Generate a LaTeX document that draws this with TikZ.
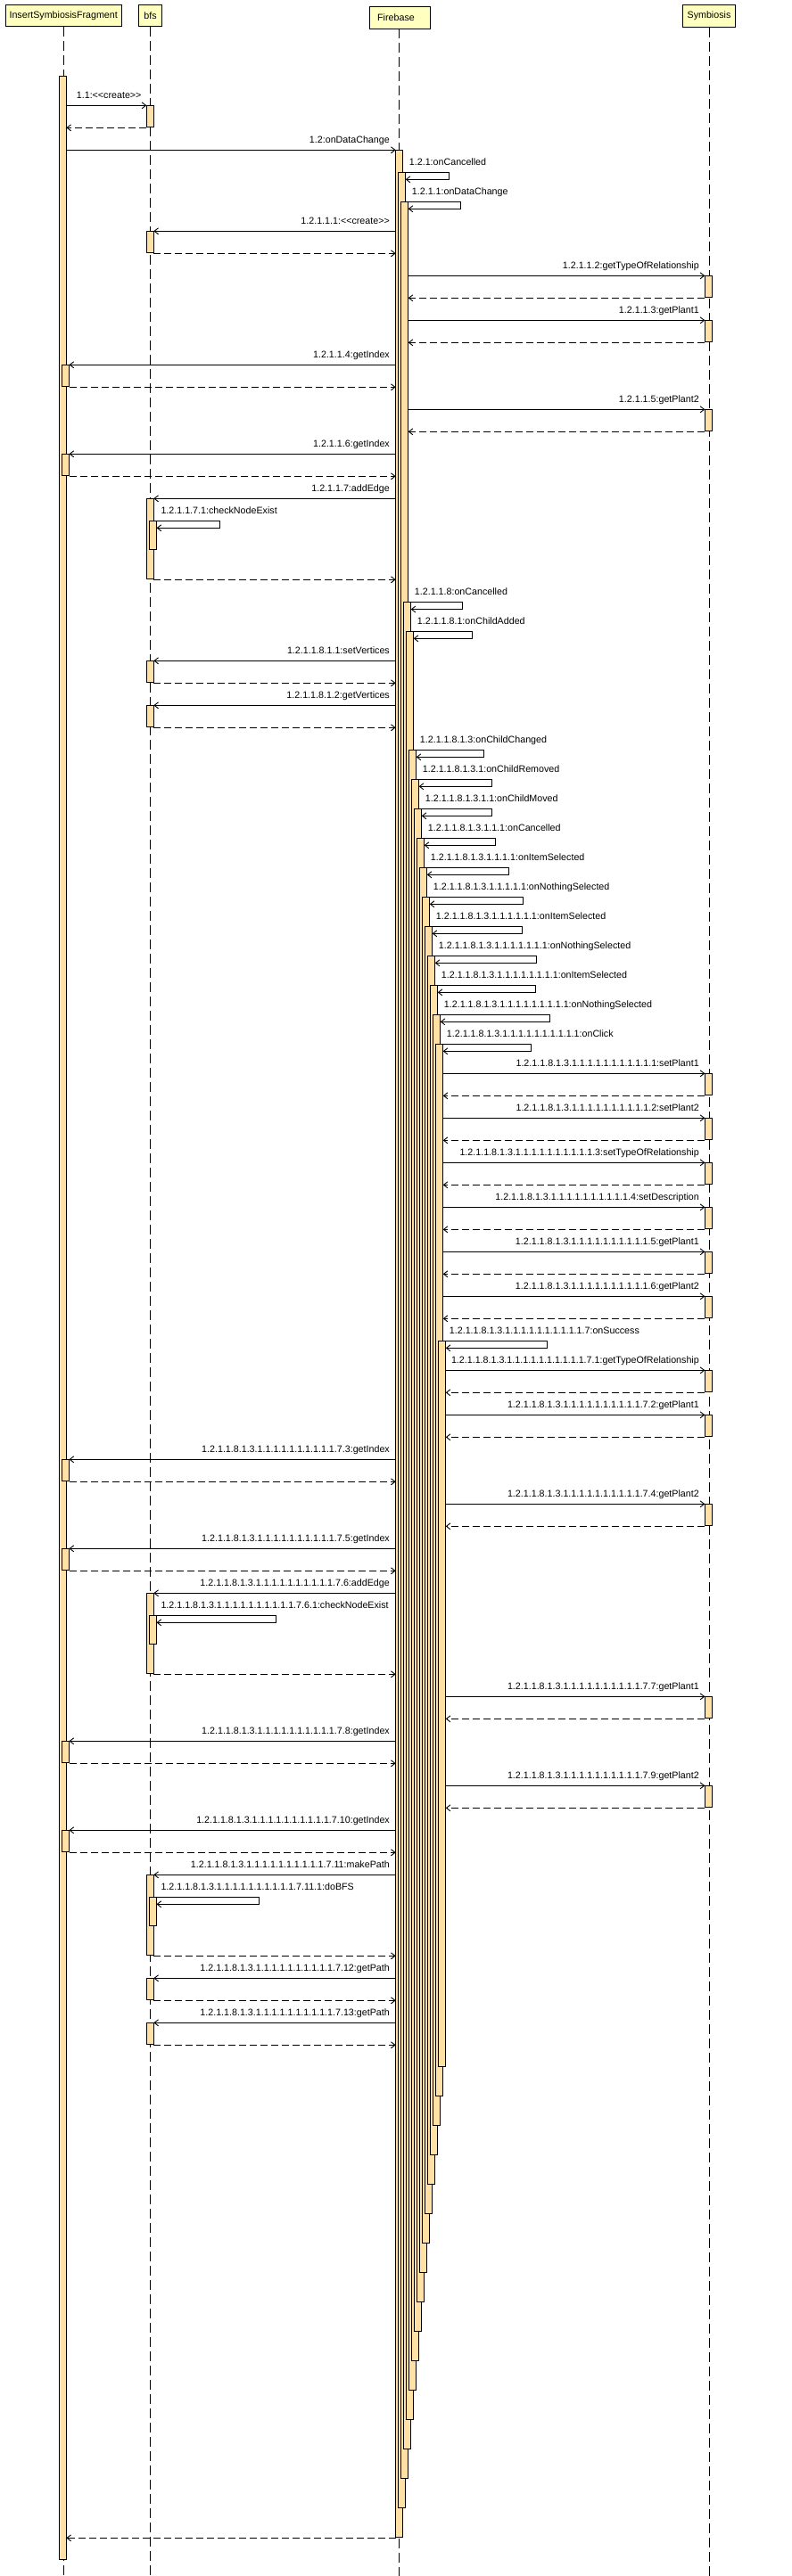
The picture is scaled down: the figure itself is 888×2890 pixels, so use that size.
\documentclass[tikz,border=0pt]{standalone}
\usepackage{fontspec}
\setmainfont{Liberation Sans}
\usetikzlibrary{arrows.meta}
\definecolor{headfill}{RGB}{255,255,192}
\definecolor{actfill}{RGB}{255,224,165}
\def\B{1.2.1.1.8.1.3}
\def\Xn{\B.1.1.1.1.1.1.1.1.1.1}
\def\cre{<{}<create>{}>}
% right call to Symbiosis: id, y, k (firebase activation index), label
\newcommand{\rcall}[4]{%
  \draw[actbox] (790.3,#2) rectangle (798.3,{#2+24});
  \coordinate (#1s) at ({451.7+3*#3},#2);
  \coordinate (#1t) at (790.3,#2);
  \draw[callarrow] (#1s) -- (#1t);
  \coordinate (#1rs) at (790.3,{#2+25});
  \coordinate (#1rt) at ({451.7+3*#3},{#2+25});
  \draw[retarrow] (#1rs) -- (#1rt);
  \node[lbl] (#1l) at (784,{#2-8}) {#4};
}
% left call from Firebase: id, y, target activation left x, label
\newcommand{\lcall}[4]{%
  \draw[actbox] (#3,#2) rectangle ({#3+8},{#2+24});
  \coordinate (#1s) at (443.7,#2);
  \coordinate (#1t) at ({#3+8},#2);
  \draw[callarrow] (#1s) -- (#1t);
  \coordinate (#1rs) at ({#3+8},{#2+25});
  \coordinate (#1rt) at (443.7,{#2+25});
  \draw[retarrow] (#1rs) -- (#1rt);
  \node[lbl] (#1l) at (437,{#2-8}) {#4};
}
% self call on Firebase: id, k, y, loop right, label
\newcommand{\fself}[5]{%
  \coordinate (#1a) at ({451.7+3*(#2-1)},#3);
  \coordinate (#1b) at (#4,#3);
  \coordinate (#1c) at (#4,{#3+8});
  \coordinate (#1d) at ({451.7+3*#2},{#3+8});
  \draw[selfarrow] (#1a) -- (#1b) -- (#1c) -- (#1d);
  \node[lblw] (#1l) at ({458.7+3*(#2-1)},{#3-8}) {#5};
}
% call to bfs with nested self call: id, y, label, sublabel, loop right
\newcommand{\bcalln}[5]{%
  \draw[actbox] (164.3,#2) rectangle (172.3,{#2+90});
  \draw[actbox] (167.5,{#2+25}) rectangle (175.5,{#2+57});
  \coordinate (#1s) at (443.7,#2);
  \coordinate (#1t) at (172.3,#2);
  \draw[callarrow] (#1s) -- (#1t);
  \node[lbl] (#1l) at (437,{#2-8}) {#3};
  \coordinate (#1a) at (172.3,{#2+25});
  \coordinate (#1b) at (#5,{#2+25});
  \coordinate (#1c) at (#5,{#2+33});
  \coordinate (#1d) at (175.5,{#2+33});
  \draw[selfarrow] (#1a) -- (#1b) -- (#1c) -- (#1d);
  \node[lblw] (#1m) at (180.3,{#2+17}) {#4};
  \coordinate (#1rs) at (172.3,{#2+91});
  \coordinate (#1rt) at (443.7,{#2+91});
  \draw[retarrow] (#1rs) -- (#1rt);
}
\begin{document}
\begin{tikzpicture}[x=1pt,y=-1pt,
  font=\fontsize{10.7}{12}\selectfont,
  headbox/.style={draw=black,line width=1pt,fill=headfill,inner sep=0pt},
  lifeline/.style={line width=0.9pt,dash pattern=on 11pt off 5pt},
  actbox/.style={draw=black,line width=0.8pt,fill=actfill},
  callarrow/.style={line width=0.9pt,-{Straight Barb[length=4.5pt,width=7pt]}},
  retarrow/.style={line width=0.9pt,dash pattern=on 8pt off 4pt,-{Straight Barb[length=4.5pt,width=7pt]}},
  selfarrow/.style={line width=0.9pt,-{Straight Barb[length=4.5pt,width=7pt]}},
  lbl/.style={inner sep=0pt,anchor=base east},
  lblw/.style={inner sep=0pt,anchor=base west}]
\useasboundingbox (0,0) rectangle (888,2890);
\coordinate (bottom) at (0,2890);
% headers
\node[headbox,anchor=north west,minimum width=130pt,minimum height=24pt] (isf) at (5.7,5.3) {InsertSymbiosisFragment};
\node[headbox,anchor=north west,minimum width=25.4pt,minimum height=24pt] (bfs) at (155.3,5.3) {bfs};
\node[headbox,anchor=north west,minimum width=67.4pt,minimum height=24.4pt,text width=67.4pt,align=left] (fb) at (414.3,7.3) {\hspace*{8.4pt}Firebase};
\node[headbox,anchor=north west,minimum width=58.4pt,minimum height=24.4pt] (sym) at (765.3,5.3) {Symbiosis};
% lifelines
\draw[lifeline] (isf.south) -- (isf.south |- bottom);
\draw[lifeline] (bfs.south) -- (bfs.south |- bottom);
\draw[lifeline] (447.3,31.7) -- (447.3,2890);
\draw[lifeline] (sym.south) -- (sym.south |- bottom);
% ISF activation
\draw[actbox] (66.3,85.3) rectangle (74.3,2871.7);
% Firebase activations
\foreach \k/\s in {0/168.3,1/193.3,2/226.3,3/675.5,4/708.3,5/841.3,6/874.3,7/907.3,8/940.3,9/973.3,10/1006.3,11/1039.3,12/1072.3,13/1105.3,14/1138.3,15/1171.3,16/1504.3}
  {\draw[actbox] ({443.7+3*\k},\s) rectangle ({451.7+3*\k},{2318.3+33*(16-\k)});}
% 1.1 create
\draw[actbox] (164.3,118.3) rectangle (172.3,142.3);
\coordinate (m1s) at (74.3,118.3);
\coordinate (m1t) at (164.3,118.3);
\draw[callarrow] (m1s) -- (m1t);
\node[lblw] (m1l) at (85.7,110.3) {1.1:\cre};
\coordinate (m1rs) at (164.3,143.3);
\coordinate (m1rt) at (74.3,143.3);
\draw[retarrow] (m1rs) -- (m1rt);
% 1.2 onDataChange
\coordinate (m2s) at (74.3,168.3);
\coordinate (m2t) at (443.7,168.3);
\draw[callarrow] (m2s) -- (m2t);
\node[lbl] (m2l) at (437,160.3) {1.2:onDataChange};
\fself{s1}{1}{193.3}{503.7}{1.2.1:onCancelled}
\fself{s2}{2}{226.3}{516.7}{1.2.1.1:onDataChange}
\lcall{c1}{259.3}{164.3}{1.2.1.1.1:\cre}
\rcall{c2}{309.3}{2}{1.2.1.1.2:getTypeOfRelationship}
\rcall{c3}{359.3}{2}{1.2.1.1.3:getPlant1}
\lcall{c4}{409.3}{69.5}{1.2.1.1.4:getIndex}
\rcall{c5}{459.3}{2}{1.2.1.1.5:getPlant2}
\lcall{c6}{509.3}{69.5}{1.2.1.1.6:getIndex}
\bcalln{c7}{559.3}{1.2.1.1.7:addEdge}{1.2.1.1.7.1:checkNodeExist}{246.2}
\fself{s3}{3}{675.5}{518.4}{1.2.1.1.8:onCancelled}
\fself{s4}{4}{708.3}{529}{1.2.1.1.8.1:onChildAdded}
\lcall{c8}{741.3}{164.3}{1.2.1.1.8.1.1:setVertices}
\lcall{c9}{791.3}{164.3}{1.2.1.1.8.1.2:getVertices}
\fself{s5}{5}{841.3}{542.2}{\B:onChildChanged}
\fself{s6}{6}{874.3}{551.2}{\B.1:onChildRemoved}
\fself{s7}{7}{907.3}{551.8}{\B.1.1:onChildMoved}
\fself{s8}{8}{940.3}{555.3}{\B.1.1.1:onCancelled}
\fself{s9}{9}{973.3}{570.7}{\B.1.1.1.1:onItemSelected}
\fself{s10}{10}{1006.3}{586.7}{\B.1.1.1.1.1:onNothingSelected}
\fself{s11}{11}{1039.3}{585.3}{\B.1.1.1.1.1.1:onItemSelected}
\fself{s12}{12}{1072.3}{601.7}{\B.1.1.1.1.1.1.1:onNothingSelected}
\fself{s13}{13}{1105.3}{600.7}{\B.1.1.1.1.1.1.1.1:onItemSelected}
\fself{s14}{14}{1138.3}{616.7}{\B.1.1.1.1.1.1.1.1.1:onNothingSelected}
\fself{s15}{15}{1171.3}{595.3}{\Xn:onClick}
\rcall{d1}{1204.3}{15}{\Xn.1:setPlant1}
\rcall{d2}{1254.3}{15}{\Xn.2:setPlant2}
\rcall{d3}{1304.3}{15}{\Xn.3:setTypeOfRelationship}
\rcall{d4}{1354.3}{15}{\Xn.4:setDescription}
\rcall{d5}{1404.3}{15}{\Xn.5:getPlant1}
\rcall{d6}{1454.3}{15}{\Xn.6:getPlant2}
\fself{s16}{16}{1504.3}{613}{\Xn.7:onSuccess}
\rcall{e1}{1537.3}{16}{\Xn.7.1:getTypeOfRelationship}
\rcall{e2}{1587.3}{16}{\Xn.7.2:getPlant1}
\lcall{e3}{1637.3}{69.5}{\Xn.7.3:getIndex}
\rcall{e4}{1687.3}{16}{\Xn.7.4:getPlant2}
\lcall{e5}{1737.3}{69.5}{\Xn.7.5:getIndex}
\bcalln{e6}{1787.3}{\Xn.7.6:addEdge}{\Xn.7.6.1:checkNodeExist}{309}
\rcall{e7}{1903.3}{16}{\Xn.7.7:getPlant1}
\lcall{e8}{1953.3}{69.5}{\Xn.7.8:getIndex}
\rcall{e9}{2003.3}{16}{\Xn.7.9:getPlant2}
\lcall{e10}{2053.3}{69.5}{\Xn.7.10:getIndex}
\bcalln{e11}{2103.3}{\Xn.7.11:makePath}{\Xn.7.11.1:doBFS}{290.3}
\lcall{e12}{2219.3}{164.3}{\Xn.7.12:getPath}
\lcall{e13}{2269.3}{164.3}{\Xn.7.13:getPath}
% final return
\coordinate (fins) at (443.7,2847.3);
\coordinate (fint) at (74.3,2847.3);
\draw[retarrow] (fins) -- (fint);
\end{tikzpicture}
\end{document}
